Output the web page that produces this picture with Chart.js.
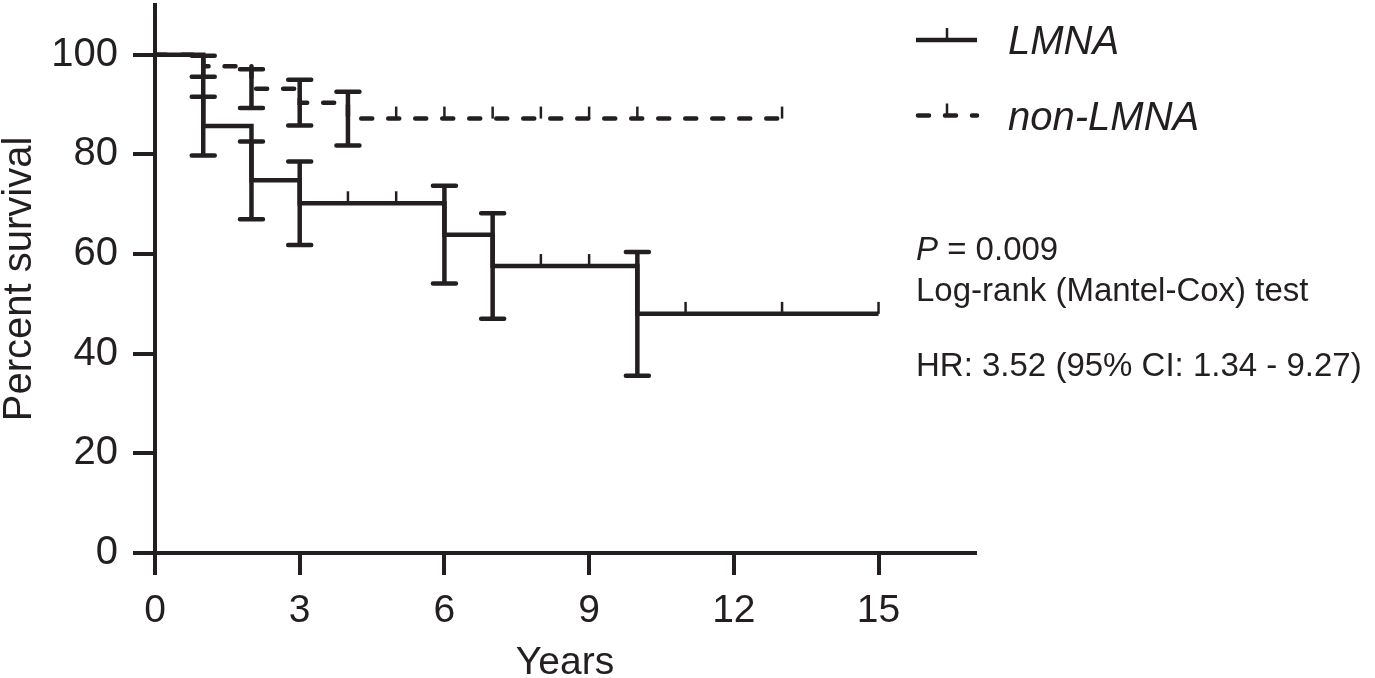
<!DOCTYPE html>
<html>
<head>
<meta charset="utf-8">
<script src="https://cdn.jsdelivr.net/npm/chart.js@4.4.1/dist/chart.umd.min.js"></script>
<style>
  html, body { margin: 0; padding: 0; background: #fff; }
  #wrap { width: 1375px; height: 678px; position: relative; }
</style>
</head>
<body>
<div id="wrap"><canvas id="km"></canvas></div>
<script>
const INK = '#231f20';
const FONT = "'Liberation Sans', Arial, Helvetica, sans-serif";

// Kaplan-Meier steps
const lmnaYears = [0, 1, 2, 3, 6, 7, 10, 15];
const lmnaSurvival = [100, 85.7, 74.8, 70.2, 63.9, 57.6, 48.0, 48.0];
const lmnaSE = [null, 5.9, 7.8, 8.4, 9.8, 10.6, 12.4, null];
const lmnaCensored = [4, 5, 8, 9, 11, 13, 15];

const nonYears = [0, 1, 2, 3, 4, 13];
const nonSurvival = [100, 97.7, 93.2, 90.4, 87.2, 87.2];
const nonSE = [null, 2.1, 3.9, 4.6, 5.4, null];
const nonCensored = [5, 6, 7, 8, 9, 10, 13];

const xTicks = [0, 3, 6, 9, 12, 15];
const yTicks = [0, 20, 40, 60, 80, 100];

const statLines = ['Log-rank (Mantel-Cox) test', 'HR: 3.52 (95% CI: 1.34 - 9.27)'];

function survivalAt(years, surv, t) {
  let s = surv[0];
  for (let i = 0; i < years.length; i++) {
    if (years[i] <= t) s = surv[i];
  }
  return s;
}

// no extra room for edge labels, the plot box is fixed
function noEdgePadding(s) {
  s.paddingTop = 0;
  s.paddingBottom = 0;
  s.paddingLeft = 0;
  s.paddingRight = 0;
}

const kmMarks = {
  id: 'kmMarks',
  afterDatasetsDraw(chart) {
    const { ctx, scales: { x, y } } = chart;
    ctx.save();
    ctx.strokeStyle = INK;
    ctx.setLineDash([]);
    chart.data.datasets.forEach(ds => {
      const m = ds.marks;
      // SE error bars at every step
      m.years.forEach((t, i) => {
        const se = m.se[i];
        if (se == null) return;
        const px = x.getPixelForValue(t);
        const hi = y.getPixelForValue(m.surv[i] + se);
        const lo = y.getPixelForValue(m.surv[i] - se);
        ctx.lineWidth = 4.5;
        ctx.lineCap = 'butt';
        ctx.beginPath();
        ctx.moveTo(px, hi);
        ctx.lineTo(px, lo);
        ctx.stroke();
        ctx.lineCap = 'round';
        ctx.beginPath();
        ctx.moveTo(px - 11.5, hi); ctx.lineTo(px + 11.5, hi);
        ctx.moveTo(px - 11.5, lo); ctx.lineTo(px + 11.5, lo);
        ctx.stroke();
      });
      // censor ticks
      ctx.lineWidth = 2.5;
      ctx.lineCap = 'butt';
      m.censored.forEach(t => {
        const px = x.getPixelForValue(t);
        const py = y.getPixelForValue(survivalAt(m.years, m.surv, t));
        ctx.beginPath();
        ctx.moveTo(px, py);
        ctx.lineTo(px, py - 12);
        ctx.stroke();
      });
    });
    ctx.restore();
  },
  afterDraw(chart) {
    const ctx = chart.ctx;
    ctx.save();
    ctx.fillStyle = INK;
    ctx.strokeStyle = INK;
    // legend
    const rows = [{ y: 40, base: 54 }, { y: 115.5, base: 130 }];
    chart.data.datasets.forEach((ds, i) => {
      const r = rows[i];
      ctx.lineWidth = 4.5;
      ctx.setLineDash(ds.borderDash || []);
      ctx.lineCap = ds.borderDash ? 'round' : 'butt';
      ctx.beginPath();
      ctx.moveTo(ds.borderDash ? 918 : 916, r.y);
      ctx.lineTo(977, r.y);
      ctx.stroke();
      ctx.setLineDash([]);
      ctx.lineWidth = 2.5;
      ctx.lineCap = 'butt';
      ctx.beginPath();
      ctx.moveTo(947, r.y);
      ctx.lineTo(947, r.y - 12);
      ctx.stroke();
      ctx.font = 'italic 40px ' + FONT;
      ctx.textBaseline = 'alphabetic';
      ctx.fillText(ds.label, 1008, r.base);
    });
    // test statistics
    ctx.font = 'italic 33px ' + FONT;
    ctx.fillText('P', 916, 260);
    const pw = ctx.measureText('P').width;
    ctx.font = '33px ' + FONT;
    ctx.fillText(' = 0.009', 916 + pw, 260);
    ctx.fillText(statLines[0], 916, 301);
    ctx.fillText(statLines[1], 916, 376);
    ctx.restore();
  }
};

const toPoints = (xs, ys) => xs.map((v, i) => ({ x: v, y: ys[i] }));

new Chart(document.getElementById('km'), {
  type: 'line',
  data: {
    datasets: [
      {
        label: 'LMNA',
        data: toPoints(lmnaYears, lmnaSurvival),
        stepped: 'before',
        borderColor: INK,
        borderWidth: 4.5,
        pointRadius: 0,
        fill: false,
        marks: { years: lmnaYears, surv: lmnaSurvival, se: lmnaSE, censored: lmnaCensored }
      },
      {
        label: 'non-LMNA',
        data: toPoints(nonYears, nonSurvival),
        stepped: 'before',
        borderColor: INK,
        borderWidth: 4.5,
        borderDash: [11, 16],
        borderCapStyle: 'round',
        pointRadius: 0,
        fill: false,
        marks: { years: nonYears, surv: nonSurvival, se: nonSE, censored: nonCensored }
      }
    ]
  },
  options: {
    responsive: true,
    maintainAspectRatio: false,
    animation: false,
    layout: { padding: { left: 0, right: 400, top: 5, bottom: 0 } },
    plugins: { legend: { display: false }, tooltip: { enabled: false } },
    scales: {
      x: {
        type: 'linear',
        min: 0,
        max: 17,
        afterBuildTicks: s => { s.ticks = xTicks.map(v => ({ value: v })); },
        afterFit: s => { s.height = 125; noEdgePadding(s); },
        border: { display: true, color: INK, width: 4 },
        grid: { drawOnChartArea: false, drawTicks: true, tickLength: 22, color: INK, lineWidth: 4 },
        ticks: { color: INK, font: { family: FONT, size: 39 }, padding: 13, maxRotation: 0, autoSkip: false },
        title: { display: true, text: 'Years', color: INK, font: { family: FONT, size: 39, lineHeight: 0.6 }, padding: { top: 0, bottom: 3 } }
      },
      y: {
        min: 0,
        max: 110,
        afterBuildTicks: s => { s.ticks = yTicks.map(v => ({ value: v })); },
        afterFit: s => { s.width = 155; noEdgePadding(s); },
        border: { display: true, color: INK, width: 4 },
        grid: { drawOnChartArea: false, drawTicks: true, tickLength: 22, color: INK, lineWidth: 4 },
        ticks: { color: INK, font: { family: FONT, size: 40 }, padding: 15 },
        title: { display: true, text: 'Percent survival', color: INK, font: { family: FONT, size: 40, lineHeight: 1 }, padding: { top: 0, bottom: 0 } }
      }
    }
  },
  plugins: [kmMarks]
});
</script>
</body>
</html>
